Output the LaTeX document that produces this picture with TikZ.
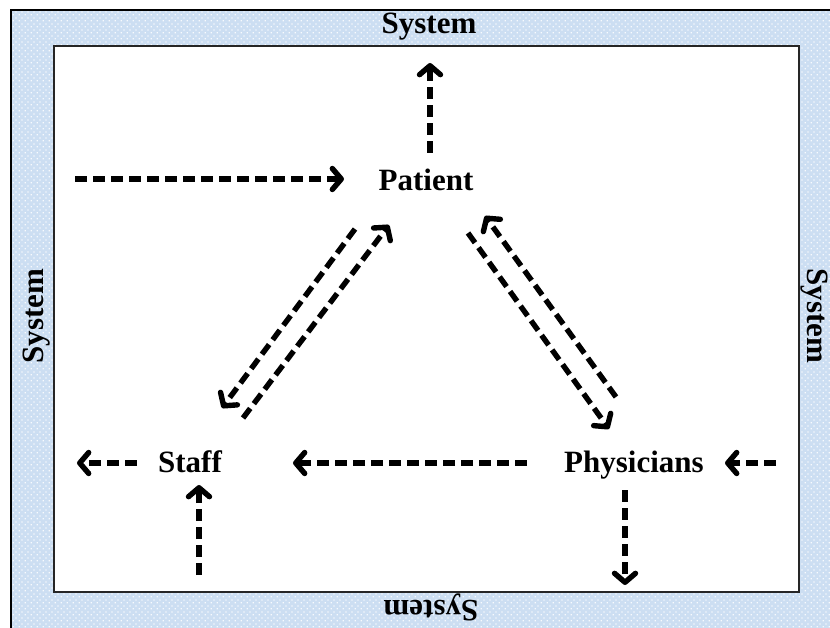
\documentclass[tikz,border=0pt]{standalone}
\usepackage{fontspec}
\setmainfont{Liberation Serif}
\usetikzlibrary{arrows.meta,calc,patterns.meta}

\definecolor{sysblue}{RGB}{204,222,242}

% small white dots on the surrounding "System" band
\tikzdeclarepattern{
  name=sysdots,
  type=uncolored,
  bounding box={(0pt,0pt) and (6pt,6pt)},
  tile size={(6pt,6pt)},
  code={
    \fill (0.8pt,0.8pt) rectangle (2.3pt,2.3pt);
    \fill (3.8pt,3.8pt) rectangle (5.3pt,5.3pt);
  }
}

\tikzset{
  label/.style={font=\fontsize{31}{36}\selectfont\bfseries, inner sep=0pt},
  actor/.style={label, anchor=base},
  flow/.style={line width=5.4pt, dash pattern=on 12pt off 6pt,
    -{Straight Barb[length=9pt,width=21pt,line width=5.4pt,line cap=round,line join=round]}},
}

\begin{document}
\begin{tikzpicture}[x=1pt,y=-1pt]
  \useasboundingbox (0,0) rectangle (830,628);

  % outer band
  \fill[sysblue] (11,10) rectangle (850,650);
  \fill[pattern=sysdots, pattern color=white!85!sysblue] (11,10) rectangle (850,650);
  \draw[line width=1.4pt, black] (11,10) rectangle (850,650);

  % inner field
  \draw[line width=1.4pt, black!85, fill=white] (54,46) rectangle (799,592);

  % band labels
  \node[label] (systop) at (429,27) {System};
  \node[label, rotate=90] (sysleft) at (37,316) {System};
  \node[label, rotate=-90] (sysright) at (814,316) {System};
  \node[label, rotate=180] (sysbottom) at (431,607) {System};

  % actors
  \node[actor] (Patient) at (426,191) {Patient};
  \node[actor] (Staff) at (190,472) {Staff};
  \node[actor] (Physicians) at (634,472) {Physicians};

  % free ends
  \coordinate (inP) at (75,179);
  \coordinate (outS) at (77,463);
  \coordinate (inS) at (199,575);
  \coordinate (inD) at (776,463);
  \coordinate (outD) at (625,585);

  % Patient
  \draw[flow] ($(Patient.base)+(4,-38)$) -- ($(Patient.base)+(4,-128)$);
  \draw[flow] (inP) -- ($(Patient.base)+(-82,-12)$);

  % Patient <-> Staff
  \draw[flow] ($(Patient.base)+(-71,38)$) -- ($(Staff.base)+(32,-64)$);
  \draw[flow] ($(Staff.base)+(53,-54)$) -- ($(Patient.base)+(-37,34)$);

  % Patient <-> Physicians
  \draw[flow] ($(Patient.base)+(42,42)$) -- ($(Physicians.base)+(-25,-43)$);
  \draw[flow] ($(Physicians.base)+(-18,-75)$) -- ($(Patient.base)+(59,25)$);

  % Physicians -> Staff
  \draw[flow] ($(Physicians.base)+(-107,-9)$) -- ($(Staff.base)+(103,-9)$);

  % Staff
  \draw[flow] ($(Staff.base)+(-53,-9)$) -- (outS);
  \draw[flow] (inS) -- ($(Staff.base)+(9,13)$);

  % Physicians
  \draw[flow] (inD) -- ($(Physicians.base)+(91,-9)$);
  \draw[flow] ($(Physicians.base)+(-9,18)$) -- (outD);
\end{tikzpicture}
\end{document}
